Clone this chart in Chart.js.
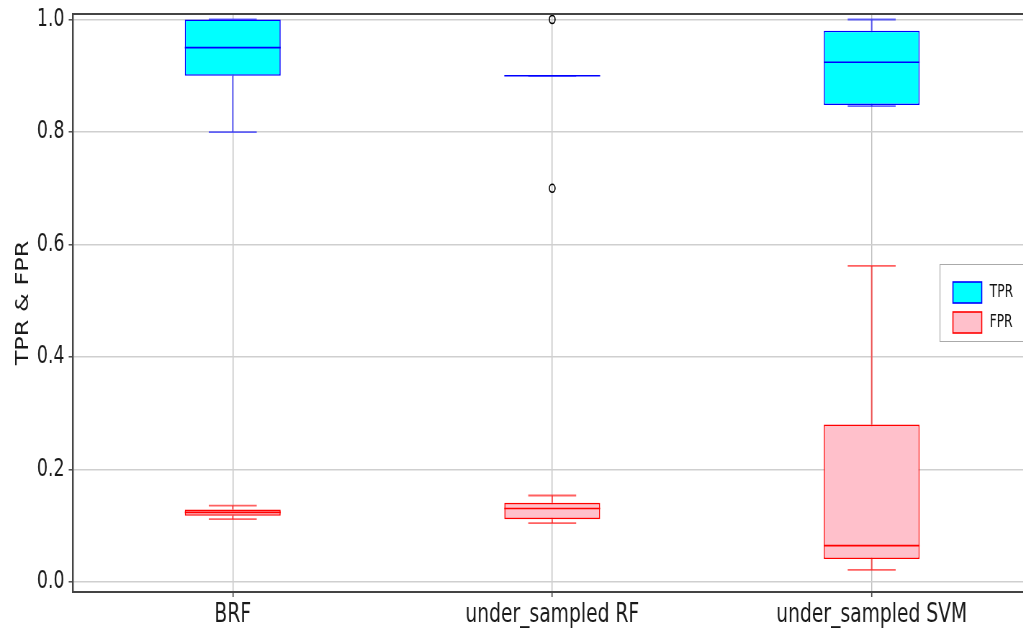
<!DOCTYPE html>
<html>
<head>
<meta charset="utf-8">
<script src="https://cdn.jsdelivr.net/npm/chart.js@4.4.0/dist/chart.umd.min.js"></script>
<style>
  html, body { margin: 0; padding: 0; background: #fff; overflow: hidden; width: 1023px; height: 628px; }
  /* the figure is drawn wide and squeezed horizontally */
  #wrap { position: absolute; left: 0; top: 0; width: 1480px; height: 628px; transform: scaleX(0.72); transform-origin: 0 0; }
  canvas { display: block; width: 1480px; height: 628px; }
</style>
</head>
<body>
<div id="wrap"><canvas id="c" width="1480" height="628"></canvas></div>
<script>
// models on the x axis
const categories = ['BRF', 'under_sampled RF', 'under_sampled SVM'];
const yTicks = [0.0, 0.2, 0.4, 0.6, 0.8, 1.0];

// TPR box statistics per model
const tprMin = [0.80, 0.90, 0.846];
const tprQ1  = [0.90, 0.90, 0.848];
const tprMed = [0.95, 0.90, 0.924];
const tprQ3  = [1.00, 0.90, 0.980];
const tprMax = [1.00, 0.90, 1.000];
const tprOutliers = [[], [1.0, 0.7], []];

// FPR box statistics per model
const fprMin = [0.112, 0.105, 0.022];
const fprQ1  = [0.118, 0.112, 0.041];
const fprMed = [0.124, 0.131, 0.065];
const fprQ3  = [0.129, 0.141, 0.280];
const fprMax = [0.136, 0.154, 0.562];
const fprOutliers = [[], [], []];

const FONT = 'DejaVu Sans';

function boxData(q1, q3) {
  return categories.map((c, i) => ({ x: i + 1, y: [q1[i], q3[i]] }));
}
function outlierData(list) {
  const pts = [];
  list.forEach((vals, i) => vals.forEach(v => pts.push({ x: i + 1, y: v })));
  return pts;
}

// whiskers, caps and medians drawn around the floating bars
const boxPlotParts = {
  id: 'boxPlotParts',
  beforeDatasetsDraw(chart) { this.drawParts(chart, 'whiskers'); },
  afterDatasetsDraw(chart) { this.drawParts(chart, 'medians'); },
  drawParts(chart, what) {
    const { ctx, scales: { x, y } } = chart;
    chart.data.datasets.forEach((ds, di) => {
      if (!ds.stats) return;
      const meta = chart.getDatasetMeta(di);
      meta.data.forEach((bar, i) => {
        const xc = x.getPixelForValue(i + 1);
        const half = bar.width / 2;
        ctx.save();
        if (what === 'whiskers') {
          ctx.strokeStyle = ds.whiskerColor;
          ctx.lineWidth = 2;
          ctx.beginPath();
          ctx.moveTo(xc, y.getPixelForValue(ds.stats.q3[i]));
          ctx.lineTo(xc, y.getPixelForValue(ds.stats.max[i]));
          ctx.moveTo(xc, y.getPixelForValue(ds.stats.q1[i]));
          ctx.lineTo(xc, y.getPixelForValue(ds.stats.min[i]));
          ctx.stroke();
          ctx.lineWidth = 1.8;
          ctx.beginPath();
          [ds.stats.max[i], ds.stats.min[i]].forEach(v => {
            const py = y.getPixelForValue(v);
            ctx.moveTo(xc - half / 2, py);
            ctx.lineTo(xc + half / 2, py);
          });
          ctx.stroke();
        } else {
          ctx.strokeStyle = ds.borderColor;
          ctx.lineWidth = 1.6;
          const py = y.getPixelForValue(ds.stats.med[i]);
          ctx.beginPath();
          ctx.moveTo(xc - half, py);
          ctx.lineTo(xc + half, py);
          ctx.stroke();
        }
        ctx.restore();
      });
    });
  }
};

// top spine of the axes frame
const frameTop = {
  id: 'frameTop',
  afterDraw(chart) {
    const { ctx, chartArea: a } = chart;
    ctx.save();
    ctx.strokeStyle = '#444';
    ctx.lineWidth = 2;
    ctx.beginPath();
    ctx.moveTo(a.left, a.top);
    ctx.lineTo(a.right, a.top);
    ctx.stroke();
    ctx.restore();
  }
};

// legend box at the centre right of the plot
const boxLegend = {
  id: 'boxLegend',
  afterDraw(chart) {
    const { ctx, chartArea: a } = chart;
    const items = chart.data.datasets.filter(d => d.stats);
    const w = 117, h = 77;
    const left = a.right - 10 - w;
    const top = (a.top + a.bottom) / 2 - h / 2;
    ctx.save();
    ctx.fillStyle = 'rgba(255,255,255,0.9)';
    ctx.strokeStyle = '#aaaaaa';
    ctx.lineWidth = 1.2;
    ctx.beginPath();
    ctx.rect(left, top, w, h);
    ctx.fill();
    ctx.stroke();
    ctx.font = '17px "' + FONT + '"';
    ctx.textBaseline = 'middle';
    ctx.textAlign = 'left';
    items.forEach((d, k) => {
      const sy = top + 17.5 + k * 30;
      ctx.fillStyle = d.backgroundColor;
      ctx.fillRect(left + 18, sy, 40, 21);
      ctx.strokeStyle = d.borderColor;
      ctx.lineWidth = 1.6;
      ctx.strokeRect(left + 18, sy, 40, 21);
      ctx.fillStyle = '#111';
      ctx.fillText(d.label, left + 69, sy + 11);
    });
    ctx.restore();
  }
};

const chart = new Chart(document.getElementById('c'), {
  type: 'bar',
  data: {
    datasets: [
      {
        label: 'TPR',
        data: boxData(tprQ1, tprQ3),
        stats: { min: tprMin, q1: tprQ1, med: tprMed, q3: tprQ3, max: tprMax },
        backgroundColor: '#00ffff',
        borderColor: '#0000ff',
        whiskerColor: 'rgba(40,40,255,0.7)',
        borderWidth: 1.6,
        borderSkipped: false,
        grouped: false,
        barPercentage: 0.3,
        categoryPercentage: 1.0
      },
      {
        label: 'FPR',
        data: boxData(fprQ1, fprQ3),
        stats: { min: fprMin, q1: fprQ1, med: fprMed, q3: fprQ3, max: fprMax },
        backgroundColor: '#ffc0cb',
        borderColor: '#ff0000',
        whiskerColor: 'rgba(255,30,30,0.7)',
        borderWidth: 1.6,
        borderSkipped: false,
        grouped: false,
        barPercentage: 0.3,
        categoryPercentage: 1.0
      },
      {
        type: 'scatter',
        label: 'TPR outliers',
        data: outlierData(tprOutliers),
        pointStyle: 'circle',
        pointRadius: 4,
        borderColor: '#000',
        borderWidth: 1.6,
        backgroundColor: 'rgba(0,0,0,0)'
      },
      {
        type: 'scatter',
        label: 'FPR outliers',
        data: outlierData(fprOutliers),
        pointStyle: 'circle',
        pointRadius: 4,
        borderColor: '#000',
        borderWidth: 1.6,
        backgroundColor: 'rgba(0,0,0,0)'
      }
    ]
  },
  options: {
    responsive: false,
    maintainAspectRatio: false,
    animation: false,
    events: [],
    devicePixelRatio: 1,
    layout: { padding: { left: 0, top: 14, right: 47.5, bottom: 0 } },
    plugins: {
      legend: { display: false },
      tooltip: { enabled: false }
    },
    scales: {
      x: {
        type: 'linear',
        min: 0.5,
        max: 3.5,
        offset: false,
        afterBuildTicks: s => { s.ticks = categories.map((c, i) => ({ value: i + 1 })); },
        afterFit: s => { s.height = 36; s.paddingLeft = 0; s.paddingRight = 0; },
        ticks: {
          autoSkip: false,
          maxRotation: 0,
          minRotation: 0,
          padding: 3,
          color: '#1a1a1a',
          font: { family: FONT, size: 26 },
          callback: v => categories[Math.round(v) - 1]
        },
        grid: {
          offset: false,
          color: '#bdbdbd',
          lineWidth: 1.4,
          tickColor: '#444',
          tickLength: 5,
          tickWidth: 1.6
        },
        border: { display: true, color: '#444', width: 2 }
      },
      y: {
        type: 'linear',
        min: -0.0175,
        max: 1.0098,
        afterBuildTicks: s => { s.ticks = yTicks.map(v => ({ value: v })); },
        afterFit: s => { s.width = 101.4; s.paddingTop = 0; s.paddingBottom = 0; },
        ticks: {
          padding: 6,
          color: '#1a1a1a',
          font: { family: FONT, size: 24 },
          callback: v => v.toFixed(1)
        },
        grid: {
          color: '#cfcfcf',
          lineWidth: 1.6,
          tickColor: '#444',
          tickLength: 6,
          tickWidth: 1.4
        },
        border: { display: true, color: '#444', width: 2.4 },
        title: {
          display: true,
          text: 'TPR & FPR',
          color: '#1a1a1a',
          font: { family: FONT, size: 24 },
          padding: { top: 18, bottom: 0 }
        }
      }
    }
  },
  plugins: [boxPlotParts, frameTop, boxLegend]
});
</script>
</body>
</html>
